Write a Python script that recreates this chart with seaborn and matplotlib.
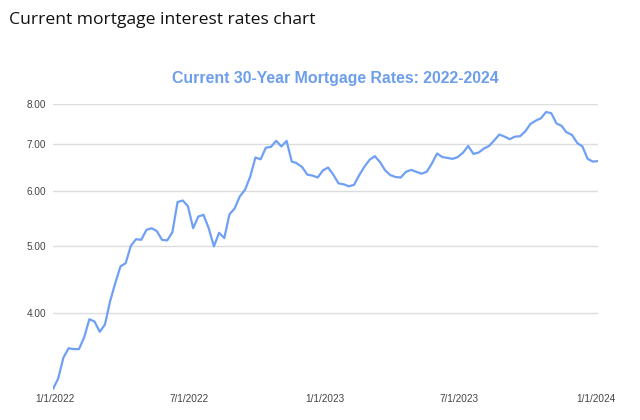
import matplotlib
matplotlib.use("Agg")
import matplotlib.pyplot as plt
import matplotlib.dates as mdates
from matplotlib.ticker import FixedLocator, NullLocator, FixedFormatter
import seaborn as sns
import pandas as pd

dates = [
    "2021-12-30",
    "2022-01-06", "2022-01-13", "2022-01-20", "2022-01-27", "2022-02-03", "2022-02-10",
    "2022-02-17", "2022-02-24", "2022-03-03", "2022-03-10", "2022-03-17", "2022-03-24",
    "2022-03-31", "2022-04-07", "2022-04-14", "2022-04-21", "2022-04-28", "2022-05-05",
    "2022-05-12", "2022-05-19", "2022-05-26", "2022-06-02", "2022-06-09", "2022-06-16",
    "2022-06-23", "2022-06-30", "2022-07-07", "2022-07-14", "2022-07-21", "2022-07-28",
    "2022-08-04", "2022-08-11", "2022-08-18", "2022-08-25", "2022-09-01", "2022-09-08",
    "2022-09-15", "2022-09-22", "2022-09-29", "2022-10-06", "2022-10-13", "2022-10-20",
    "2022-10-27", "2022-11-03", "2022-11-10", "2022-11-17", "2022-11-23", "2022-12-01",
    "2022-12-08", "2022-12-15", "2022-12-22", "2022-12-29",
    "2023-01-05", "2023-01-12", "2023-01-19", "2023-01-26", "2023-02-02", "2023-02-09",
    "2023-02-16", "2023-02-23", "2023-03-02", "2023-03-09", "2023-03-16", "2023-03-23",
    "2023-03-30", "2023-04-06", "2023-04-13", "2023-04-20", "2023-04-27", "2023-05-04",
    "2023-05-11", "2023-05-18", "2023-05-25", "2023-06-01", "2023-06-08", "2023-06-15",
    "2023-06-22", "2023-06-29", "2023-07-06", "2023-07-13", "2023-07-20", "2023-07-27",
    "2023-08-03", "2023-08-10", "2023-08-17", "2023-08-24", "2023-08-31", "2023-09-07",
    "2023-09-14", "2023-09-21", "2023-09-28", "2023-10-05", "2023-10-12", "2023-10-19",
    "2023-10-26", "2023-11-02", "2023-11-09", "2023-11-16", "2023-11-22", "2023-11-30",
    "2023-12-07", "2023-12-14", "2023-12-21", "2023-12-28",
    "2024-01-04",
]

rates = [
    3.11,
    3.22, 3.45, 3.56, 3.55, 3.55, 3.69,
    3.92, 3.89, 3.76, 3.85, 4.16, 4.42,
    4.67, 4.72, 5.00, 5.11, 5.10, 5.27,
    5.30, 5.25, 5.10, 5.09, 5.23, 5.78,
    5.81, 5.70, 5.30, 5.51, 5.54, 5.30,
    4.99, 5.22, 5.13, 5.55, 5.66, 5.89,
    6.02, 6.29, 6.70, 6.66, 6.92, 6.94,
    7.08, 6.95, 7.08, 6.61, 6.58, 6.49,
    6.33, 6.31, 6.27, 6.42,
    6.48, 6.33, 6.15, 6.13, 6.09, 6.12,
    6.32, 6.50, 6.65, 6.73, 6.60, 6.42,
    6.32, 6.28, 6.27, 6.39, 6.43, 6.39,
    6.35, 6.39, 6.57, 6.79, 6.71, 6.69,
    6.67, 6.71, 6.81, 6.96, 6.78, 6.81,
    6.90, 6.96, 7.09, 7.23, 7.18, 7.12,
    7.18, 7.19, 7.31, 7.49, 7.57, 7.63,
    7.79, 7.76, 7.50, 7.44, 7.29, 7.22,
    7.03, 6.95, 6.67, 6.61,
    6.62,
]

y_ticks = [4.0, 5.0, 6.0, 7.0, 8.0]
y_tick_labels = ["4.00", "5.00", "6.00", "7.00", "8.00"]
x_ticks = ["2022-01-01", "2022-07-01", "2023-01-01", "2023-07-01", "2024-01-01"]
x_tick_labels = ["1/1/2022", "7/1/2022", "1/1/2023", "7/1/2023", "1/1/2024"]

page_title = "Current mortgage interest rates chart"
chart_title = "Current 30-Year Mortgage Rates: 2022-2024"

df = pd.DataFrame({"date": pd.to_datetime(dates), "rate": rates})

sns.set_theme(style="white")
plt.rcParams["font.family"] = ["Liberation Sans", "DejaVu Sans"]

fig = plt.figure(figsize=(6.4, 4.2), dpi=100)
ax = fig.add_axes([53 / 640, 1 - 390 / 420, (598 - 53) / 640, (390 - 104) / 420])

sns.lineplot(data=df, x="date", y="rate", ax=ax, color="#6fa0f5", linewidth=1.6)

ax.set_yscale("log")
ax.set_ylim(3.10, 8.0)
ax.set_xlim(df["date"].min(), df["date"].max())

ax.yaxis.set_major_locator(FixedLocator(y_ticks))
ax.yaxis.set_major_formatter(FixedFormatter(y_tick_labels))
ax.yaxis.set_minor_locator(NullLocator())
ax.set_xticks(mdates.date2num(pd.to_datetime(x_ticks)))
ax.set_xticklabels(x_tick_labels)
ax.xaxis.set_minor_locator(NullLocator())

ax.grid(True, axis="y", color="#dcdcdc", linewidth=1.0)
ax.grid(False, axis="x")
ax.set_axisbelow(True)
for s in ax.spines.values():
    s.set_visible(False)
ax.tick_params(axis="both", length=0, labelsize=7.2, colors="#444444")
ax.tick_params(axis="y", pad=5)
ax.tick_params(axis="x", pad=3)
ax.set_xlabel("")
ax.set_ylabel("")

fig.text(9 / 640, 1 - 20 / 420, page_title, fontsize=12.6, color="#111111",
         family=["Open Sans", "DejaVu Sans"], ha="left", va="center")
fig.text(335 / 640, 1 - 78 / 420, chart_title, fontsize=11.4, color="#6d9eeb",
         fontweight="bold", ha="center", va="center")

fig.savefig("out.png", dpi=100)
